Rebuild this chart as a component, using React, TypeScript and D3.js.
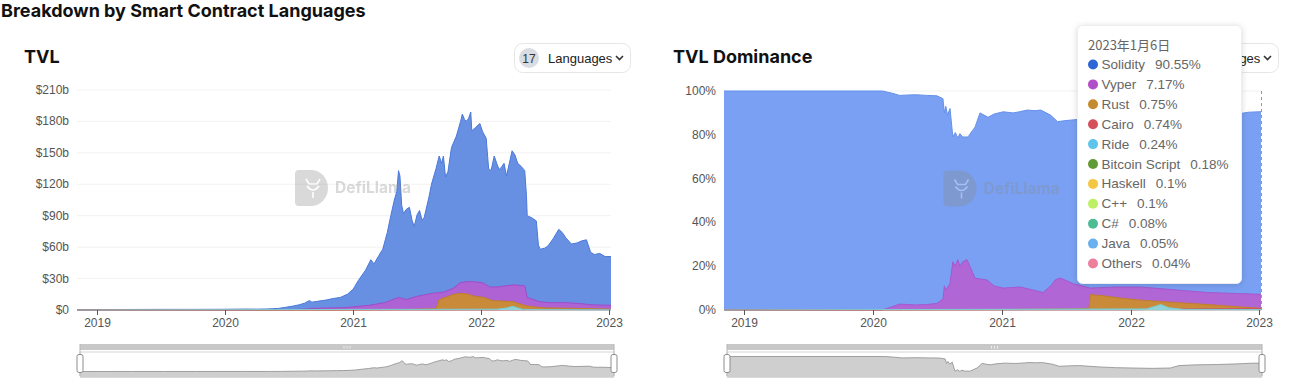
import React from 'react';
import * as d3 from 'd3';

// ---------- DATA ----------
const tvlSolidity: [string, number][] = [
  ['2018-11-05', 0.3], ['2019-01-01', 0.4], ['2019-04-01', 0.5], ['2019-07-01', 0.6], ['2019-10-01', 0.6],
  ['2020-01-01', 0.7], ['2020-03-01', 0.9], ['2020-04-01', 0.8], ['2020-05-01', 1.0], ['2020-06-01', 1.5],
  ['2020-06-20', 2.5], ['2020-07-10', 3.5], ['2020-07-31', 5], ['2020-08-15', 6.5], ['2020-08-29', 9],
  ['2020-09-05', 7.5], ['2020-09-25', 8.5], ['2020-10-15', 9.5], ['2020-11-05', 11], ['2020-11-25', 12],
  ['2020-12-15', 15], ['2021-01-01', 20], ['2021-01-15', 28], ['2021-02-05', 38], ['2021-02-20', 48],
  ['2021-03-01', 44], ['2021-03-15', 52], ['2021-03-26', 58], ['2021-04-08', 74], ['2021-04-18', 90],
  ['2021-04-28', 105], ['2021-05-05', 113], ['2021-05-10', 133], ['2021-05-14', 128], ['2021-05-19', 100],
  ['2021-05-24', 92], ['2021-06-01', 96], ['2021-06-10', 98], ['2021-06-18', 85], ['2021-06-24', 80],
  ['2021-07-02', 91], ['2021-07-09', 95], ['2021-07-16', 86], ['2021-07-22', 88], ['2021-08-05', 108],
  ['2021-08-12', 120], ['2021-08-25', 135], ['2021-09-03', 147], ['2021-09-10', 140], ['2021-09-15', 147],
  ['2021-09-21', 127], ['2021-09-28', 132], ['2021-10-08', 155], ['2021-10-22', 166], ['2021-11-03', 180],
  ['2021-11-08', 187], ['2021-11-14', 182], ['2021-11-19', 180], ['2021-11-26', 183], ['2021-12-02', 189],
  ['2021-12-05', 171], ['2021-12-15', 174], ['2021-12-28', 178], ['2022-01-05', 170], ['2022-01-15', 164],
  ['2022-01-22', 135], ['2022-01-29', 133], ['2022-02-07', 147], ['2022-02-14', 140], ['2022-02-21', 134],
  ['2022-03-01', 137], ['2022-03-07', 140], ['2022-03-14', 128], ['2022-03-22', 140], ['2022-03-30', 152],
  ['2022-04-07', 148], ['2022-04-15', 140], ['2022-04-25', 137], ['2022-05-05', 133], ['2022-05-10', 108],
  ['2022-05-12', 90], ['2022-05-25', 88], ['2022-06-07', 85], ['2022-06-13', 62], ['2022-06-18', 58],
  ['2022-07-01', 59], ['2022-07-10', 61], ['2022-07-25', 68], ['2022-08-10', 77], ['2022-08-20', 74],
  ['2022-08-30', 69], ['2022-09-15', 63], ['2022-10-01', 64], ['2022-10-15', 66], ['2022-10-28', 67],
  ['2022-11-09', 55], ['2022-11-20', 53], ['2022-12-05', 54], ['2022-12-20', 51], ['2023-01-06', 51],
];

const tvlVyper: [string, number][] = [
  ['2018-11-05', 0], ['2020-01-01', 0.05], ['2020-07-01', 0.3], ['2020-08-15', 0.8], ['2020-09-01', 1.5],
  ['2020-10-01', 1.8], ['2020-12-01', 2.2], ['2021-01-01', 3], ['2021-02-15', 4.5], ['2021-04-01', 7],
  ['2021-05-10', 12], ['2021-06-01', 10], ['2021-07-01', 13], ['2021-08-15', 16], ['2021-09-15', 17],
  ['2021-10-15', 21], ['2021-11-01', 26], ['2021-11-20', 27], ['2021-12-10', 27], ['2022-01-05', 26],
  ['2022-01-25', 22], ['2022-02-15', 22], ['2022-03-10', 23], ['2022-04-05', 24], ['2022-05-05', 23],
  ['2022-05-12', 12], ['2022-06-15', 8], ['2022-07-15', 7], ['2022-09-01', 7], ['2022-10-15', 6],
  ['2022-11-10', 5], ['2023-01-06', 4.5],
];

const tvlRust: [string, number][] = [
  ['2018-11-05', 0], ['2021-01-01', 0.1], ['2021-06-01', 0.5], ['2021-08-01', 1], ['2021-08-25', 1.5],
  ['2021-09-03', 10], ['2021-09-20', 12], ['2021-10-15', 15], ['2021-11-05', 16], ['2021-11-25', 15],
  ['2021-12-15', 13], ['2022-01-10', 12], ['2022-02-01', 9], ['2022-03-01', 8.5], ['2022-04-01', 8],
  ['2022-04-20', 6], ['2022-05-10', 4], ['2022-06-01', 3], ['2022-07-01', 2], ['2022-11-10', 1.3],
  ['2023-01-06', 0.8],
];

const tvlCairo: [string, number][] = [
  ['2018-11-05', 0], ['2022-02-01', 0.1], ['2022-06-01', 0.3], ['2023-01-06', 0.4],
];

const tvlRide: [string, number][] = [
  ['2018-11-05', 0], ['2022-02-15', 0.8], ['2022-03-15', 2], ['2022-04-01', 3.5], ['2022-04-15', 2],
  ['2022-05-01', 0.5], ['2023-01-06', 0.12],
];

const domSolidity: [string, number][] = [
  ['2018-11-05', 100], ['2020-01-28', 100], ['2020-02-25', 99], ['2020-03-17', 98], ['2020-05-01', 98.3],
  ['2020-06-01', 98], ['2020-07-01', 97.8], ['2020-07-18', 96.5], ['2020-07-22', 90], ['2020-07-26', 93],
  ['2020-07-31', 89], ['2020-08-07', 92], ['2020-08-15', 79], ['2020-08-22', 81], ['2020-08-29', 78.5],
  ['2020-09-04', 80.5], ['2020-09-12', 79], ['2020-09-27', 79], ['2020-10-10', 82], ['2020-10-17', 83.5],
  ['2020-10-31', 90], ['2020-11-23', 88], ['2020-12-10', 89.5], ['2021-01-05', 90.5], ['2021-02-02', 90],
  ['2021-02-20', 90.5], ['2021-03-14', 91.3], ['2021-04-05', 91], ['2021-04-21', 91.3], ['2021-05-19', 89],
  ['2021-06-08', 86], ['2021-07-01', 86.5], ['2021-08-04', 87], ['2021-09-01', 86],
  ['2021-10-01', 85], ['2021-11-15', 84], ['2022-01-01', 83.5], ['2022-03-01', 83], ['2022-04-20', 83.5],
  ['2022-05-15', 87], ['2022-07-01', 88], ['2022-09-01', 88.5], ['2022-11-01', 89.5], ['2022-12-01', 90.3],
  ['2023-01-06', 90.55],
];

const domVyper: [string, number][] = [
  ['2018-11-05', 0], ['2020-01-28', 0], ['2020-02-25', 1.5], ['2020-03-17', 2.7], ['2020-05-01', 2.3],
  ['2020-06-01', 2.5], ['2020-07-01', 3], ['2020-07-18', 5], ['2020-07-22', 11], ['2020-07-26', 9],
  ['2020-08-07', 12], ['2020-08-15', 22], ['2020-08-22', 20], ['2020-08-29', 23], ['2020-09-04', 20],
  ['2020-09-12', 22], ['2020-09-24', 23], ['2020-10-05', 19], ['2020-10-17', 14.5], ['2020-11-20', 13.7],
  ['2020-12-10', 11], ['2021-01-05', 10], ['2021-02-22', 10.5], ['2021-04-28', 8],
  ['2021-05-20', 11], ['2021-06-01', 13.7], ['2021-06-16', 14.6], ['2021-07-23', 12], ['2021-09-09', 10],
  ['2021-11-15', 10.5], ['2022-01-30', 10.5], ['2022-05-22', 9], ['2022-08-07', 8], ['2022-11-01', 7.5],
  ['2023-01-06', 7.17],
];

const domRust: [string, number][] = [
  ['2018-11-05', 0], ['2021-01-01', 0.2], ['2021-08-01', 0.5], ['2021-09-05', 0.8], ['2021-09-09', 7],
  ['2021-10-15', 6.5], ['2021-12-01', 5.5], ['2022-01-30', 4.5], ['2022-05-01', 3.5], ['2022-08-07', 2.5],
  ['2022-11-01', 1.5], ['2023-01-06', 0.75],
];

const domCairo: [string, number][] = [
  ['2018-11-05', 0], ['2022-01-01', 0.1], ['2022-06-01', 0.5], ['2023-01-06', 0.74],
];

const domRide: [string, number][] = [
  ['2018-11-05', 0], ['2022-02-15', 0.5], ['2022-03-28', 2.5], ['2022-04-20', 1], ['2022-06-01', 0.3],
  ['2023-01-06', 0.24],
];

const tvlTicks = [0, 30, 60, 90, 120, 150, 180, 210];
const domTicks = [0, 20, 40, 60, 80, 100];
const yearTicks = ['2019-01-01', '2020-01-01', '2021-01-01', '2022-01-01', '2023-01-01'];
const dateDomain = ['2018-11-05', '2023-01-06'];

const tooltipDate = '2023年1月6日';
const tooltipNames = ['Solidity', 'Vyper', 'Rust', 'Cairo', 'Ride', 'Bitcoin Script', 'Haskell', 'C++', 'C#', 'Java', 'Others'];
const tooltipValues = ['90.55%', '7.17%', '0.75%', '0.74%', '0.24%', '0.18%', '0.1%', '0.1%', '0.08%', '0.05%', '0.04%'];
const markerColors = ['#2f66d6', '#b04fc9', '#c48a2e', '#d6505a', '#5fc4ec', '#5f9a35', '#f2c744', '#bdf062', '#4dbb95', '#68b1ee', '#ec7f9c'];

// ---------- HELPERS ----------
const parse = d3.timeParse('%Y-%m-%d');
type Pt = [Date, number];
const toPts = (a: [string, number][]): Pt[] => a.map(([d, v]) => [parse(d) as Date, v]);

const FONT = '"Liberation Sans", Arial, sans-serif';

interface SeriesDef { data: [string, number][]; fill: string; stroke: string; }

function Watermark({ cx, cy }: { cx: number; cy: number }) {
  const lx = cx - 52, ty = cy - 18;
  return (
    <g opacity={0.32}>
      <path d={`M${lx},${ty + 4} q0,-4 4,-4 h12 a17,18 0 0 1 0,36 h-12 q-4,0 -4,-4 z`} fill="#8a8a8a" />
      <path d={`M${lx + 11},${ty + 9} l3,5 h8 l3,-5 M${lx + 12},${ty + 16} q6,8 12,0 M${lx + 18},${ty + 22} v6`} stroke="#fff" strokeWidth={1.6} fill="none" />
      <text x={lx + 40} y={cy + 5} fontFamily="Inter, sans-serif" fontWeight={700} fontSize={15.5} fill="#8a8a8a">DefiLlama</text>
    </g>
  );
}

function LangButton({ x, y, clip }: { x: number; y: number; clip?: string }) {
  return (
    <g>
      <rect x={x + 0.5} y={y + 0.5} width={116} height={29} rx={8} fill="#fff" stroke="#e6e6e6" />
      <g clipPath={clip ? `url(#${clip})` : undefined}>
        <circle cx={x + 15} cy={y + 15} r={10} fill="#d9dce2" />
        <text x={x + 15} y={y + 19.5} textAnchor="middle" fontFamily={FONT} fontSize={12} fill="#333">17</text>
        <text x={x + 34} y={y + 19.5} fontFamily={FONT} fontSize={13} fill="#222">Languages</text>
      </g>
      <path d={`M${x + 102},${y + 13} l3.5,3.5 l3.5,-3.5`} stroke="#333" strokeWidth={1.6} fill="none" />
    </g>
  );
}

function Panel(props: {
  title: string; titleX: number; px: [number, number]; py: [number, number]; yMax: number;
  ticks: number[]; fmt: (v: number) => string; series: SeriesDef[]; sx: [number, number];
}) {
  const { title, titleX, px, py, yMax, ticks, fmt, series, sx } = props;
  const x = d3.scaleTime().domain(dateDomain.map((d) => parse(d) as Date)).range(px);
  const y = d3.scaleLinear().domain([0, yMax]).range([py[1], py[0]]);
  const area = d3.area<Pt>().x((d) => x(d[0])).y0(y(0)).y1((d) => y(d[1]));
  const line = d3.line<Pt>().x((d) => x(d[0])).y((d) => y(d[1]));

  // slider (dataZoom) shadow
  const shadowPts = toPts(series[0].data);
  const ext = d3.extent(shadowPts, (d) => d[1]) as [number, number];
  const pad = (ext[1] - ext[0]) * 0.3;
  const sTop = 352, sBot = 376;
  const xs = d3.scaleTime().domain(x.domain()).range(sx);
  const ys = d3.scaleLinear().domain([ext[0] - pad, ext[1] + pad]).range([sBot, sTop]);
  const sArea = d3.area<Pt>().x((d) => xs(d[0])).y0(sBot).y1((d) => ys(d[1]));
  const sLine = d3.line<Pt>().x((d) => xs(d[0])).y((d) => ys(d[1]));
  const midX = (sx[0] + sx[1]) / 2;

  return (
    <g>
      <text x={titleX} y={63} fontFamily="Inter, sans-serif" fontWeight={700} fontSize={18} fill="#111">{title}</text>
      {ticks.map((t) => (
        <g key={t}>
          {t > 0 && <line x1={px[0]} x2={px[1]} y1={y(t)} y2={y(t)} stroke="#f2f2f2" />}
          <text x={px[0] - 8} y={y(t) + 4} textAnchor="end" fontFamily={FONT} fontSize={12} fill="#555">{fmt(t)}</text>
        </g>
      ))}
      <line x1={px[0]} x2={px[1]} y1={py[1] + 0.5} y2={py[1] + 0.5} stroke="#ccc" />
      {series.map((s, i) => {
        const pts = toPts(s.data);
        return (
          <g key={i}>
            <path d={area(pts) || ''} fill={s.fill} />
            <path d={line(pts) || ''} fill="none" stroke={s.stroke} strokeWidth={1} />
          </g>
        );
      })}
      <Watermark cx={(px[0] + px[1]) / 2 + 3} cy={(py[0] + py[1]) / 2 - 12} />
      {yearTicks.map((t) => {
        const xv = Math.round(x(parse(t) as Date)) + 0.5;
        return (
          <g key={t}>
            <line x1={xv} x2={xv} y1={py[1]} y2={py[1] + 5} stroke="#555" />
            <text x={xv} y={327} textAnchor="middle" fontFamily={FONT} fontSize={12} fill="#555">{t.slice(0, 4)}</text>
          </g>
        );
      })}
      {/* dataZoom slider */}
      <rect x={sx[0]} y={344} width={sx[1] - sx[0]} height={6} fill="#c8c8c8" />
      <path d={`M${midX - 3},346 v2.5 M${midX},346 v2.5 M${midX + 3},346 v2.5`} stroke="#eee" strokeWidth={1} />
      <rect x={sx[0]} y={sTop} width={sx[1] - sx[0]} height={sBot - sTop} fill="none" stroke="#d6d6d6" />
      <path d={sArea(shadowPts) || ''} fill="#cfcfcf" />
      <path d={sLine(shadowPts) || ''} fill="none" stroke="#8d8d8d" strokeWidth={0.8} />
      <line x1={sx[0]} x2={sx[1]} y1={sBot + 1} y2={sBot + 1} stroke="#b5b5b5" />
      {[sx[0], sx[1]].map((hx, i) => (
        <g key={i}>
          <line x1={hx} x2={hx} y1={344} y2={sBot} stroke="#b5b5b5" />
          <rect x={hx - 3} y={sTop + 2.5} width={6} height={18} rx={2} fill="#fff" stroke="#8d8d8d" />
        </g>
      ))}
    </g>
  );
}

const TIP_X = 1077, TIP_Y = 25, TIP_W = 164, TIP_H = 258;

function Tooltip() {
  return (
    <g>
      <rect x={TIP_X + 0.5} y={TIP_Y + 0.5} width={TIP_W} height={TIP_H} rx={5} fill="#fff" stroke="#eee" filter="url(#tipShadow)" />
      <text x={TIP_X + 11} y={TIP_Y + 25} fontFamily='"Noto Sans CJK SC", sans-serif' fontSize={13} fill="#666">{tooltipDate}</text>
      {tooltipNames.map((n, i) => {
        const cy = TIP_Y + 39.5 + i * 19.9;
        return (
          <g key={n}>
            <circle cx={TIP_X + 16} cy={cy} r={5} fill={markerColors[i]} />
            <text x={TIP_X + 24.5} y={cy + 4.5} fontFamily={FONT} fontSize={13.5} fill="#666">
              {n}<tspan dx={10}>{tooltipValues[i]}</tspan>
            </text>
          </g>
        );
      })}
    </g>
  );
}

export default function App() {
  const tvlSeries: SeriesDef[] = [
    { data: tvlSolidity, fill: '#6890e2', stroke: '#4a78da' },
    { data: tvlVyper, fill: '#ae62d3', stroke: '#a04cc8' },
    { data: tvlRust, fill: '#c98a3a', stroke: '#c07f2c' },
    { data: tvlCairo, fill: '#e07070', stroke: '#d6505a' },
    { data: tvlRide, fill: '#8fd3d6', stroke: '#7ccbd0' },
  ];
  const domSeries: SeriesDef[] = [
    { data: domSolidity, fill: '#79a0f2', stroke: '#6590ea' },
    { data: domVyper, fill: '#b166d6', stroke: '#a657cf' },
    { data: domRust, fill: '#c98a3a', stroke: '#c07f2c' },
    { data: domCairo, fill: '#e07070', stroke: '#d6505a' },
    { data: domRide, fill: '#8fd3d6', stroke: '#7ccbd0' },
  ];
  const sep = domSolidity[domSolidity.length - 1][0];
  const xr = d3.scaleTime().domain(dateDomain.map((d) => parse(d) as Date)).range([724, 1261]);
  const lineX = Math.round(xr(parse(sep) as Date)) + 0.5;
  return (
    <svg width={1299} height={378} style={{ position: 'absolute', left: 0, top: 0, background: '#fff' }}>
      <defs>
        <filter id="tipShadow" x="-20%" y="-20%" width="140%" height="140%">
          <feDropShadow dx={0} dy={1} stdDeviation={3} floodColor="#000" floodOpacity={0.15} />
        </filter>
        <clipPath id="btnClip">
          <rect x={TIP_X + TIP_W + 1} y={0} width={200} height={120} />
        </clipPath>
      </defs>
      <rect width={1299} height={378} fill="#fff" />
      <text x={1} y={17} fontFamily="Inter, sans-serif" fontWeight={700} fontSize={18} fill="#111">Breakdown by Smart Contract Languages</text>
      <Panel title="TVL" titleX={24} px={[77, 611]} py={[90, 310]} yMax={210} ticks={tvlTicks}
        fmt={(v) => `$${v === 0 ? '0' : v + 'b'}`} series={tvlSeries} sx={[80, 614]} />
      <Panel title="TVL Dominance" titleX={673} px={[724, 1261]} py={[91, 310]} yMax={100} ticks={domTicks}
        fmt={(v) => `${v}%`} series={domSeries} sx={[727, 1262]} />
      <LangButton x={514} y={43} />
      <LangButton x={1162} y={43} clip="btnClip" />
      <line x1={lineX} x2={lineX} y1={91} y2={310} stroke="#999" strokeDasharray="3,3" />
      <Tooltip />
    </svg>
  );
}
